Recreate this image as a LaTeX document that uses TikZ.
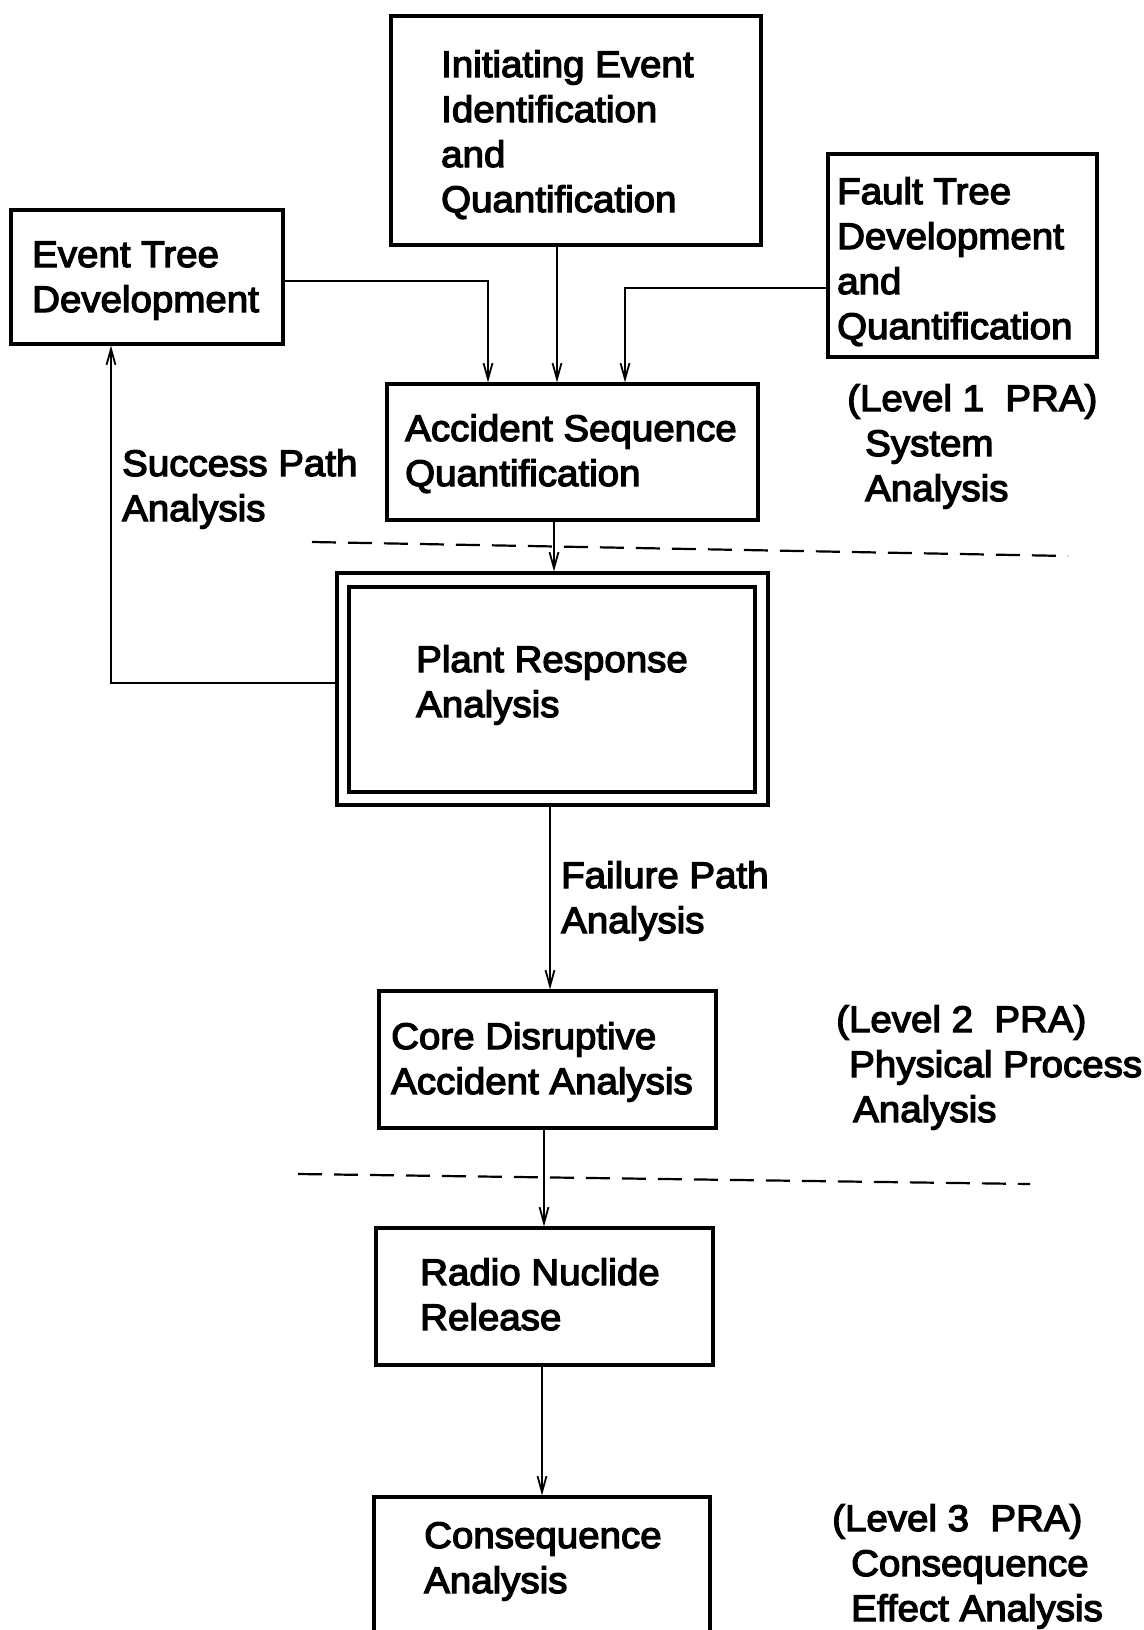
\documentclass[tikz,border=0pt]{standalone}
\usepackage{fontspec}
\setmainfont{Liberation Sans}[FakeStretch=1.04, FakeBold=3.5]
\usetikzlibrary{arrows.meta,fit}
\begin{document}
\begin{tikzpicture}[x=1pt,y=-1pt,
  box/.style={draw, line width=3.2pt, inner sep=0pt},
  txt/.style={align=left, inner sep=0pt, anchor=base west, font=\fontsize{37}{45}\selectfont},
  arr/.style={line width=1.8pt, -{Straight Barb[length=16pt,width=9pt]}},
  dashline/.style={line width=2.2pt, dash pattern=on 24pt off 12pt}]
\useasboundingbox (0,0) rectangle (1143,1630);
% boxes
\node[box, fit={(391,16) (761,245)}] (IE) {};
\node[box, fit={(11,210) (283,344)}] (ET) {};
\node[box, fit={(828,154) (1097,357)}] (FT) {};
\node[box, fit={(387,384) (758,520)}] (AS) {};
\node[box, fit={(337,573) (768,805)}] (PR) {};
\node[box, fit={(349,587) (755,792)}] (PRi) {};
\node[box, fit={(379,991) (716,1128)}] (CD) {};
\node[box, fit={(376,1228) (713,1365)}] (RN) {};
\node[box, fit={(374,1497) (710,1636)}] (CA) {};
% texts
\node[txt] (IEt) at (441,212) {Initiating Event\\Identification\\and\\Quantification};
\node[txt] (ETt) at (32,312) {Event Tree\\Development};
\node[txt] (FTt) at (837,339) {Fault Tree\\Development\\and\\Quantification};
\node[txt] (ASt) at (405,486) {Accident Sequence\\Quantification};
\node[txt] (L1) at (847,501) {(Level 1~~PRA)\\\hspace*{18pt}System\\\hspace*{18pt}Analysis};
\node[txt] (SP) at (122,521) {Success Path\\Analysis};
\node[txt] (PRt) at (416,717) {Plant Response\\Analysis};
\node[txt] (FP) at (561,933) {Failure Path\\Analysis};
\node[txt] (CDt) at (391,1094) {Core Disruptive\\Accident Analysis};
\node[txt] (L2) at (836,1122) {(Level 2~~PRA)\\\hspace*{13pt}Physical Process\\\hspace*{17pt}Analysis};
\node[txt] (RNt) at (420,1330) {Radio Nuclide\\Release};
\node[txt] (CAt) at (424,1593) {Consequence\\Analysis};
\node[txt] (L3) at (832,1621) {(Level 3~~PRA)\\\hspace*{19pt}Consequence\\\hspace*{19pt}Effect Analysis};
% dashed separators
\coordinate (d1a) at (312,542);
\coordinate (d1b) at (1068,556);
\draw[dashline] (d1a) -- (d1b);
\coordinate (d2a) at (298,1174);
\coordinate (d2b) at (1030,1184);
\draw[dashline] (d2a) -- (d2b);
% connectors
\coordinate (etj) at (488,281);
\coordinate (iej) at (557,0);
\coordinate (ftj) at (625,288);
\draw[arr] (ET.east |- etj) -| (etj |- AS.north);
\draw[arr] (IE.south -| iej) -- (iej |- AS.north);
\draw[arr] (FT.west |- ftj) -| (ftj |- AS.north);
\coordinate (asj) at (554,0);
\draw[arr] (AS.south -| asj) -- (asj |- PR.north);
\coordinate (spj) at (111,683);
\draw[arr] (PR.west |- spj) -| (spj |- ET.south);
\coordinate (fpj) at (550,0);
\draw[arr] (PR.south -| fpj) -- (fpj |- CD.north);
\coordinate (cdj) at (544,0);
\draw[arr] (CD.south -| cdj) -- (cdj |- RN.north);
\coordinate (rnj) at (542,0);
\draw[arr] (RN.south -| rnj) -- (rnj |- CA.north);
\end{tikzpicture}
\end{document}
